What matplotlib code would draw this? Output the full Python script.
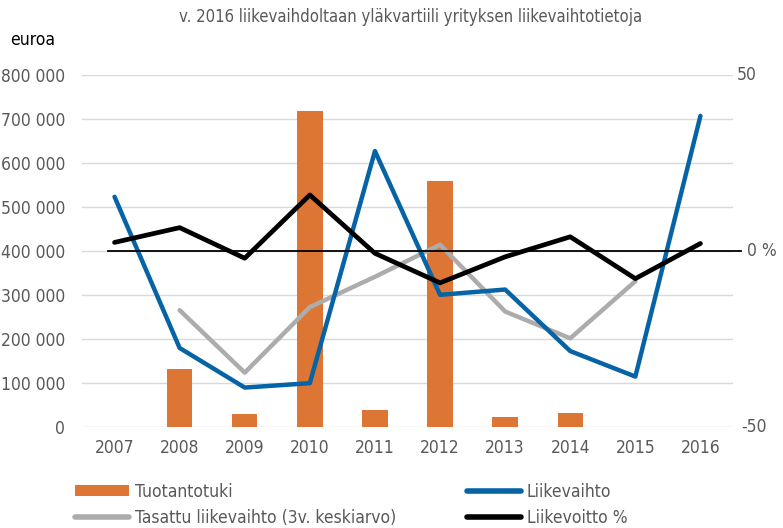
import matplotlib
matplotlib.use("Agg")
import matplotlib.pyplot as plt
from matplotlib.patches import Patch
from matplotlib.lines import Line2D
import matplotlib.transforms as mtransforms
from matplotlib import font_manager as fm
import numpy as np

plt.rcParams['font.family'] = ['DejaVu Sans']
plt.rcParams['font.stretch'] = 'condensed'

years = ["2007", "2008", "2009", "2010", "2011", "2012", "2013", "2014", "2015", "2016"]
tuotantotuki = [0, 131000, 29000, 719000, 38000, 560000, 21000, 32000, 0, 0]
liikevaihto = [523000, 179000, 89000, 99000, 627000, 300000, 312000, 172000, 114000, 707000]
tasattu = [None, 265000, 123000, 272000, 341000, 414000, 262000, 201000, 331000, None]
liikevoitto = [2.4, 6.6, -2.1, 15.9, -0.7, -9.1, -1.7, 4.0, -7.9, 2.1]
left_ticks = [0, 100000, 200000, 300000, 400000, 500000, 600000, 700000, 800000]
left_labels = ["0", "100 000", "200 000", "300 000", "400 000", "500 000", "600 000", "700 000", "800 000"]

TXT = '#595959'
ORANGE = '#dd7634'
BLUE = '#0563a6'
GRAY = '#acacac'
FS = 12.5

W, H = 783, 528
fig = plt.figure(figsize=(W / 100, H / 100), dpi=100)
L, R, T, B = 82, 733, 75, 426.7
ax = fig.add_axes([L / W, 1 - B / H, (R - L) / W, (B - T) / H])
x = np.arange(len(years))

ax.bar(x, tuotantotuki, width=0.39, color=ORANGE, zorder=2)
ax.plot(x, liikevaihto, color=BLUE, lw=3.2, zorder=4, solid_capstyle='round', solid_joinstyle='round')
tas = np.array([np.nan if v is None else v for v in tasattu], dtype=float)
ax.plot(x, tas, color=GRAY, lw=3.2, zorder=3, solid_capstyle='round', solid_joinstyle='round')

ax.set_xlim(-0.5, len(years) - 0.5)
ax.set_ylim(0, 800000)
ax.set_yticks(left_ticks)
ax.set_yticklabels(left_labels)
ax.set_xticks(x)
ax.set_xticklabels(years)
ax.grid(axis='y', color='#d9d9d9', lw=1.0, zorder=0)
ax.set_axisbelow(True)
for s in ax.spines.values():
    s.set_visible(False)
ax.tick_params(axis='y', length=0, pad=12, labelsize=FS, labelcolor=TXT)
ax.tick_params(axis='x', length=0, pad=9, labelsize=FS, labelcolor=TXT)

ax2 = ax.twinx()
ax2.set_ylim(-50, 50)
for s in ax2.spines.values():
    s.set_visible(False)
ax2.set_yticks([])
ax2.plot([-0.1, 9.62], [0, 0], color='black', lw=1.3, zorder=3, clip_on=False)
ax2.plot(x, liikevoitto, color='black', lw=3.4, zorder=5, solid_capstyle='round', solid_joinstyle='round')
trans = mtransforms.blended_transform_factory(ax2.transAxes, ax2.transData)
for val, lab, px in [(50, "50", 737), (0, "0 %", 747), (-50, "-50", 741)]:
    ax2.text((px - L) / (R - L), val, lab, transform=trans, ha='left', va='center',
             fontsize=FS, color=TXT, clip_on=False)

fig.text(411 / W, 1 - 17 / H, "v. 2016 liikevaihdoltaan yläkvartiili yrityksen liikevaihtotietoja",
         ha='center', va='center', fontsize=12, color=TXT)
fig.text(10 / W, 1 - 40 / H, "euroa", ha='left', va='center', fontsize=12.5, color='black')

h1 = [Patch(facecolor=ORANGE, edgecolor='none'),
      Line2D([0], [0], color=GRAY, lw=4, solid_capstyle='round')]
l1 = ["Tuotantotuki", "Tasattu liikevaihto (3v. keskiarvo)"]
h2 = [Line2D([0], [0], color=BLUE, lw=4, solid_capstyle='round'),
      Line2D([0], [0], color='black', lw=4, solid_capstyle='round')]
l2 = ["Liikevaihto", "Liikevoitto %"]
leg_kw = dict(loc='center left', frameon=False, fontsize=FS, handlelength=3.1,
              handleheight=0.6, handletextpad=0.35, labelspacing=0.45, borderaxespad=0, borderpad=0,
              labelcolor=TXT)
lg1 = fig.legend(h1, l1, bbox_to_anchor=(75 / W, 1 - 505 / H), **leg_kw)
lg2 = fig.legend(h2, l2, bbox_to_anchor=(467 / W, 1 - 505 / H), **leg_kw)

fig.savefig("out.png", dpi=100)
